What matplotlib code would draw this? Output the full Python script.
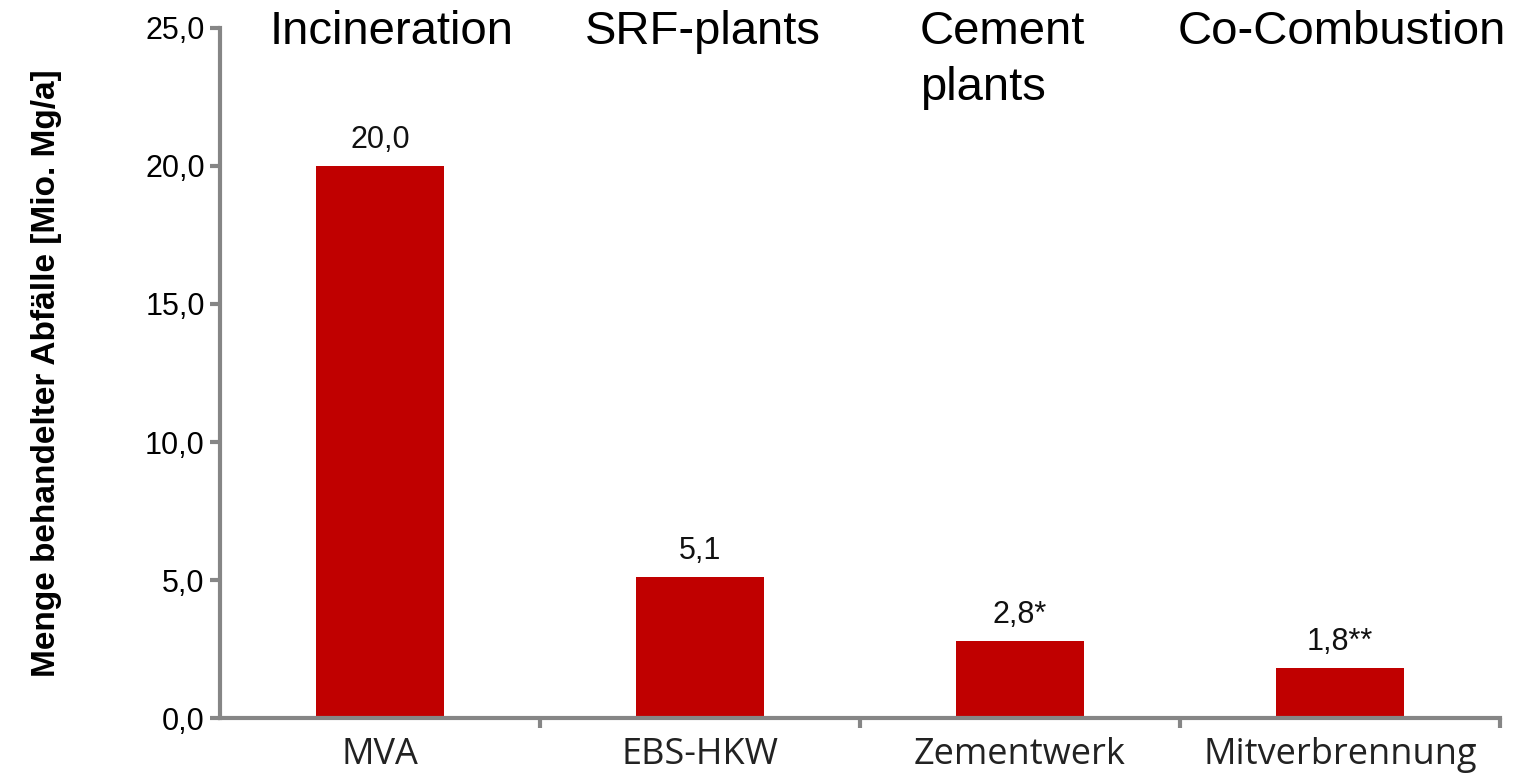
import matplotlib
matplotlib.use("Agg")
import matplotlib.pyplot as plt
from matplotlib.ticker import FuncFormatter, FixedLocator

categories = ["MVA", "EBS-HKW", "Zementwerk", "Mitverbrennung"]
values = [20.0, 5.1, 2.8, 1.8]
value_labels = ["20,0", "5,1", "2,8*", "1,8**"]
english = ["Incineration", "SRF-plants", "Cement\nplants", "Co-Combustion"]
y_ticks = [0, 5, 10, 15, 20, 25]

RED = "#c00000"
GREY = "#868686"

fig = plt.figure(figsize=(15.13, 7.77), dpi=100)
ax = fig.add_axes([0.1454, 0.0759, 0.8460, 0.8881])

x = list(range(len(categories)))
ax.bar(x, values, width=0.4, color=RED, zorder=2)
for xi, v, lab in zip(x, values, value_labels):
    ax.text(xi, v + 0.4, lab, ha="center", va="bottom", fontsize=22,
            family="Liberation Sans", color="#111")

ax.set_xlim(-0.5, len(categories) - 0.5)
ax.set_ylim(0, 25)
ax.set_yticks(y_ticks)
ax.yaxis.set_major_formatter(FuncFormatter(lambda v, p: f"{v:.1f}".replace(".", ",")))
for t in ax.get_yticklabels():
    t.set_family("Liberation Sans")
    t.set_fontsize(22)

ax.set_xticks(x)
ax.set_xticklabels(categories, family="Open Sans", fontsize=26, color="#222")
ax.tick_params(axis="x", which="major", length=0, pad=14)
ax.xaxis.set_minor_locator(FixedLocator([i + 0.5 for i in range(len(categories))]))
ax.tick_params(axis="x", which="minor", length=7, width=3, color=GREY, direction="out")
ax.tick_params(axis="y", length=7, width=3, color=GREY, pad=4)

for s in ("top", "right"):
    ax.spines[s].set_visible(False)
for s in ("left", "bottom"):
    ax.spines[s].set_color(GREY)
    ax.spines[s].set_linewidth(3)

ax.set_ylabel("Menge behandelter Abfälle [Mio. Mg/a]", family="Liberation Sans",
              fontweight="bold", fontsize=24, labelpad=60)

# English category headings along the top
top_x = [270, 585, 920, 1178]
for px, lab in zip(top_x, english):
    fig.text(px / 1513, 1 - 10 / 777, lab, ha="left", va="top", fontsize=34,
             family="Liberation Sans", color="black", linespacing=1.35)

fig.savefig("out.png", dpi=100)
